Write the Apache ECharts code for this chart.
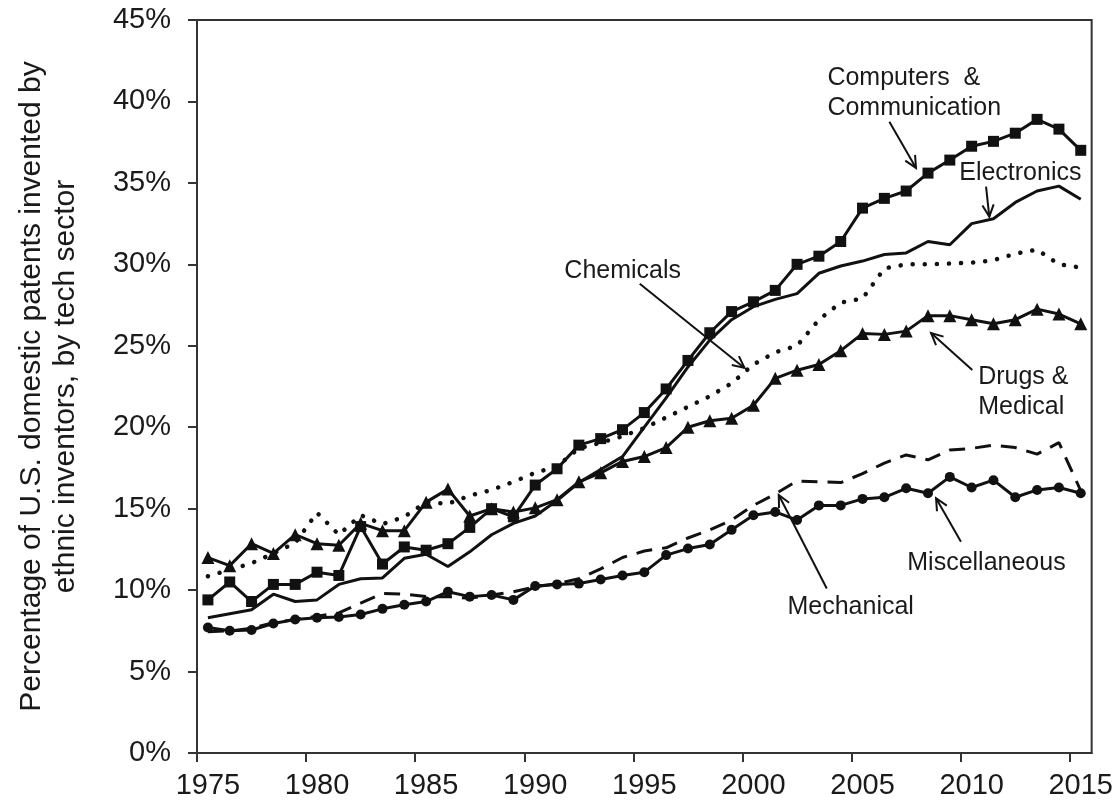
<!DOCTYPE html>
<html>
<head>
<meta charset="utf-8">
<script src="https://cdn.jsdelivr.net/npm/echarts@6/dist/echarts.min.js"></script>
<style>
html, body { margin: 0; padding: 0; background: #fff; }
#plot { width: 1116px; height: 803px; }
</style>
</head>
<body>
<div id="plot"></div>
<script>
// patent years (each point sits in the middle of its year)
const years = [1975, 1976, 1977, 1978, 1979, 1980, 1981, 1982, 1983, 1984,
    1985, 1986, 1987, 1988, 1989, 1990, 1991, 1992, 1993, 1994,
    1995, 1996, 1997, 1998, 1999, 2000, 2001, 2002, 2003, 2004,
    2005, 2006, 2007, 2008, 2009, 2010, 2011, 2012, 2013, 2014, 2015];
const xTicks = [1975, 1980, 1985, 1990, 1995, 2000, 2005, 2010, 2015];

// percent of patents, by sector
const computers = [9.4, 10.5, 9.3, 10.35, 10.35, 11.1, 10.9, 13.9, 11.6, 12.65,
    12.45, 12.85, 13.85, 15.0, 14.5, 16.45, 17.45, 18.9, 19.3, 19.85,
    20.9, 22.35, 24.1, 25.8, 27.1, 27.7, 28.4, 30.0, 30.5, 31.4,
    33.45, 34.05, 34.5, 35.6, 36.4, 37.25, 37.55, 38.05, 38.9, 38.3, 37.0];
const electronics = [8.3, 8.55, 8.8, 9.75, 9.3, 9.4, 10.35, 10.7, 10.75, 11.95,
    12.2, 11.45, 12.35, 13.4, 14.1, 14.55, 15.5, 16.6, 17.4, 18.2,
    20.0, 21.8, 23.7, 25.35, 26.6, 27.4, 27.85, 28.2, 29.45, 29.9,
    30.2, 30.6, 30.7, 31.4, 31.2, 32.5, 32.8, 33.8, 34.5, 34.8, 34.0];
const chemicals = [10.85, 11.25, 11.65, 12.25, 12.9, 14.75, 13.4, 14.6, 14.05, 14.5,
    15.4, 15.3, 15.8, 16.15, 16.65, 17.2, 17.6, 18.7, 19.05, 19.45,
    19.95, 20.6, 21.25, 21.9, 22.7, 23.85, 24.6, 25.0, 26.6, 27.65,
    27.9, 29.75, 30.0, 30.0, 30.05, 30.1, 30.25, 30.65, 30.9, 30.0, 29.8];
const drugs = [12.0, 11.5, 12.85, 12.25, 13.4, 12.85, 12.75, 14.1, 13.65, 13.65,
    15.4, 16.2, 14.55, 15.0, 14.8, 15.05, 15.55, 16.65, 17.2, 17.9,
    18.2, 18.75, 20.0, 20.4, 20.55, 21.35, 23.0, 23.5, 23.85, 24.7,
    25.75, 25.7, 25.9, 26.85, 26.85, 26.6, 26.35, 26.6, 27.25, 26.95, 26.35];
const mechanical = [7.45, 7.5, 7.65, 8.0, 8.2, 8.4, 8.6, 9.2, 9.8, 9.75,
    9.6, 9.6, 9.5, 9.7, 9.9, 10.2, 10.4, 10.7, 11.3, 12.0,
    12.4, 12.6, 13.2, 13.7, 14.3, 15.2, 15.9, 16.7, 16.65, 16.6,
    17.15, 17.8, 18.3, 18.0, 18.6, 18.7, 18.9, 18.75, 18.35, 19.05, 16.1];
const misc = [7.7, 7.5, 7.55, 7.95, 8.2, 8.3, 8.35, 8.5, 8.85, 9.1,
    9.3, 9.9, 9.6, 9.7, 9.4, 10.25, 10.35, 10.4, 10.65, 10.9,
    11.1, 12.15, 12.55, 12.8, 13.7, 14.6, 14.8, 14.3, 15.2, 15.2,
    15.6, 15.7, 16.25, 15.95, 16.95, 16.3, 16.75, 15.7, 16.15, 16.3, 15.95];

const FONT = '"Liberation Sans", Arial, sans-serif';
const INK = '#111';

// callouts, anchored in data units (year, percent)
const notes = [
    { text: 'Computers  &\nCommunication', at: [2003.89, 40.49], from: [2006.73, 38.76], to: [2007.95, 35.92] },
    { text: 'Electronics', at: [2009.93, 35.57], from: [2011.16, 34.77], to: [2011.31, 32.93] },
    { text: 'Chemicals', at: [1994.51, 29.61], center: true, from: [1995.29, 28.81], to: [2000.09, 23.64] },
    { text: 'Drugs &\nMedical', at: [2010.80, 22.14], from: [2010.53, 23.52], to: [2008.64, 25.78] },
    { text: 'Miscellaneous', at: [2007.55, 11.66], from: [2010.01, 12.97], to: [2008.87, 15.64] },
    { text: 'Mechanical', at: [2002.06, 8.96], from: [2003.86, 10.10], to: [2001.66, 15.84] }
];

function pts(vals) {
    return years.map((y, i) => [y + 0.5, vals[i]]);
}

function line(name, vals, opts) {
    return Object.assign({
        name: name,
        type: 'line',
        data: pts(vals),
        symbol: 'none',
        lineStyle: { color: INK, width: 3 },
        itemStyle: { color: INK },
        animation: false
    }, opts);
}

const chart = echarts.init(document.getElementById('plot'));
chart.setOption({
    animation: false,
    grid: { left: 197, right: 24, top: 20, bottom: 50, show: true, borderColor: '#333', borderWidth: 2 },
    xAxis: {
        type: 'value',
        min: 1975,
        max: 2016,
        axisLine: { show: true, lineStyle: { color: '#333', width: 2 } },
        axisTick: { show: true, customValues: xTicks, length: 9, lineStyle: { color: '#333', width: 2 } },
        // year labels sit at the middle of their year, ticks at its start
        axisLabel: {
            customValues: xTicks.map(v => v + 0.5), formatter: v => String(Math.floor(v)),
            fontSize: 29, fontFamily: FONT, color: '#1a1a1a', margin: 18
        },
        splitLine: { show: false }
    },
    yAxis: {
        type: 'value',
        min: 0,
        max: 45,
        interval: 5,
        name: 'Percentage of U.S. domestic patents invented by\nethnic inventors, by tech sector',
        nameLocation: 'middle',
        nameRotate: 90,
        nameGap: 114,
        nameTextStyle: { fontSize: 30, fontFamily: FONT, color: '#1a1a1a', lineHeight: 34 },
        axisLine: { show: true, lineStyle: { color: '#333', width: 2 } },
        axisTick: { show: true, length: 9, lineStyle: { color: '#333', width: 2 } },
        axisLabel: { formatter: '{value}%', fontSize: 29, fontFamily: FONT, color: '#1a1a1a', margin: 26 },
        splitLine: { show: false }
    },
    series: [
        line('Mechanical', mechanical, { lineStyle: { color: INK, width: 3, type: [16, 10] } }),
        line('Chemicals', chemicals, { lineStyle: { color: INK, width: 4.5, type: [0.1, 12], cap: 'round' } }),
        line('Electronics', electronics),
        line('Miscellaneous', misc, { symbol: 'circle', symbolSize: 10 }),
        line('Drugs & Medical', drugs, { symbol: 'triangle', symbolSize: 13 }),
        line('Computers & Communication', computers, { symbol: 'rect', symbolSize: 11 })
    ]
});

// callout texts and open arrows
const toPx = p => chart.convertToPixel({ xAxisIndex: 0, yAxisIndex: 0 }, p);
const graphics = [];
notes.forEach(n => {
    const t = toPx(n.at);
    graphics.push({
        type: 'text', x: t[0], y: t[1], z: 10,
        style: {
            text: n.text, fill: '#1a1a1a', fontSize: 25, fontFamily: FONT, lineHeight: 30,
            align: n.center ? 'center' : 'left', verticalAlign: 'middle'
        }
    });
    const a = toPx(n.from), b = toPx(n.to);
    const ang = Math.atan2(a[1] - b[1], a[0] - b[0]);
    const L = 13, spread = 0.45;
    graphics.push({
        type: 'line', z: 10,
        shape: { x1: a[0], y1: a[1], x2: b[0], y2: b[1] },
        style: { stroke: INK, lineWidth: 2 }
    });
    graphics.push({
        type: 'polyline', z: 10,
        shape: { points: [
            [b[0] + L * Math.cos(ang + spread), b[1] + L * Math.sin(ang + spread)],
            b,
            [b[0] + L * Math.cos(ang - spread), b[1] + L * Math.sin(ang - spread)]
        ] },
        style: { stroke: INK, lineWidth: 2, fill: null }
    });
});
chart.setOption({ graphic: graphics });
</script>
</body>
</html>
